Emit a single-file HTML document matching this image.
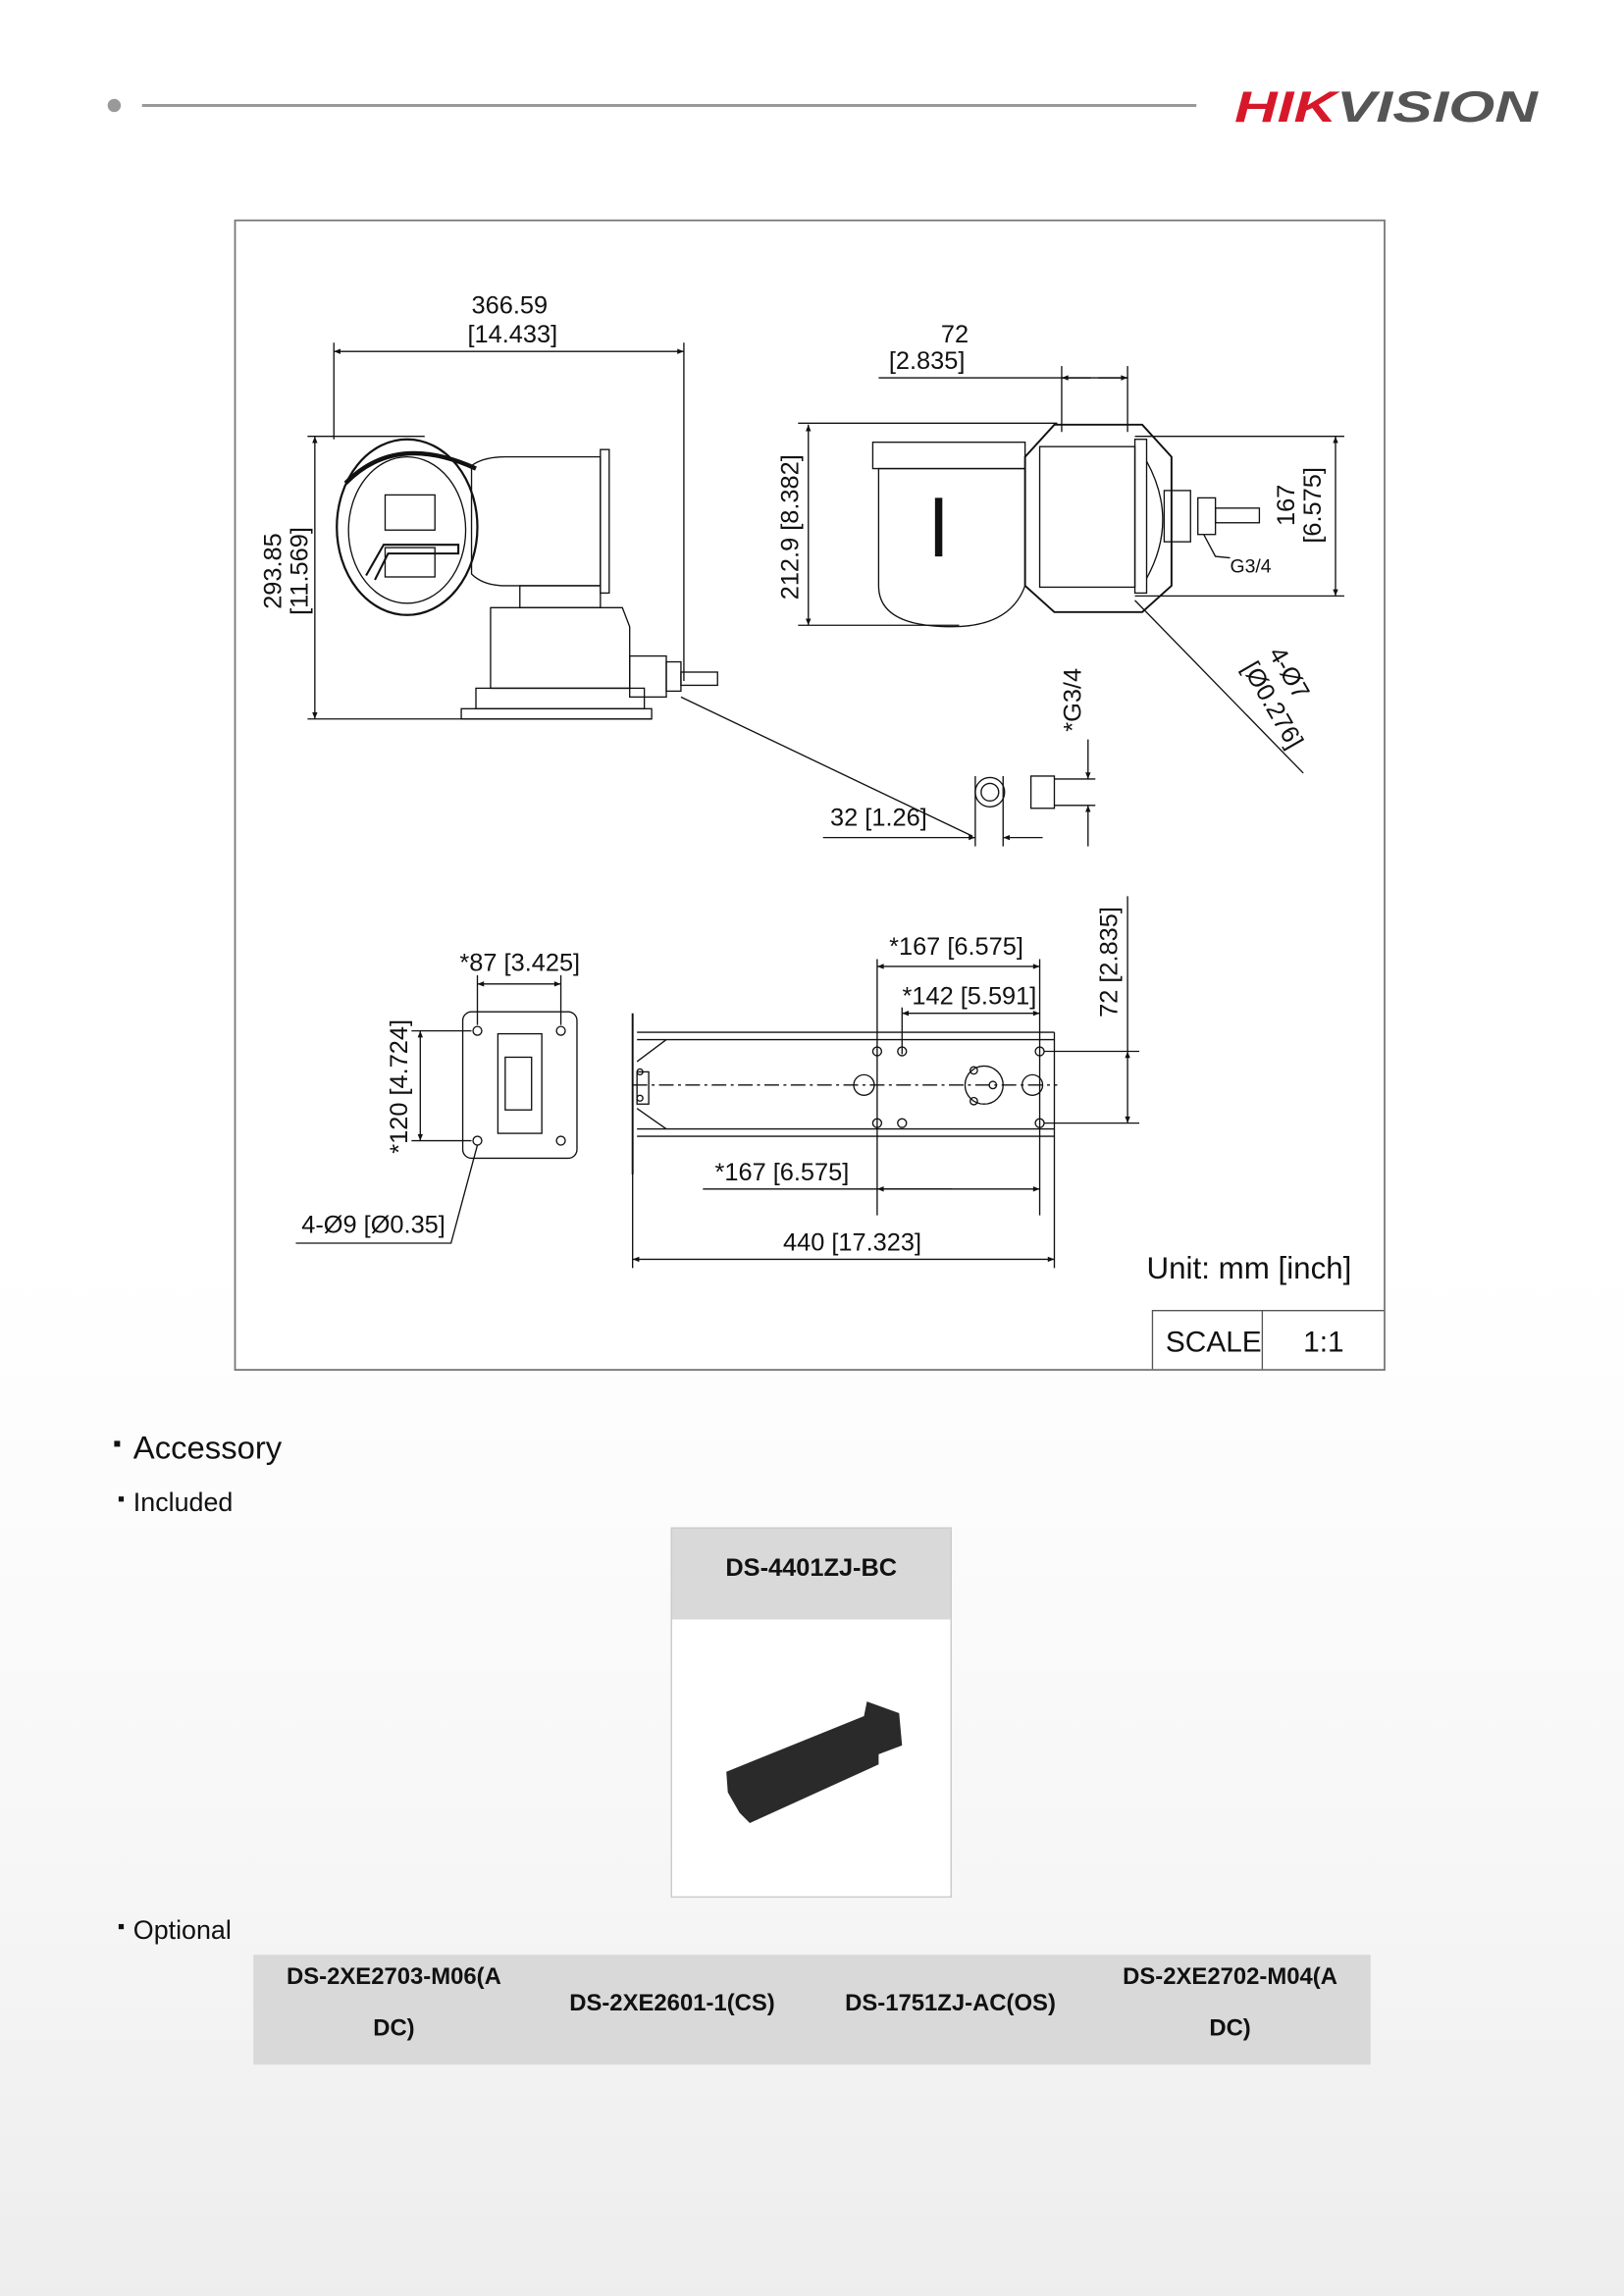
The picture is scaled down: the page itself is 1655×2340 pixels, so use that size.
<!DOCTYPE html>
<html><head><meta charset="utf-8"><style>
html,body{margin:0;padding:0;background:#fff}
svg{display:block}
text{font-family:"Liberation Sans",sans-serif;fill:#111}
</style></head><body>
<svg width="1655" height="2340" viewBox="0 0 1109 1568" xmlns="http://www.w3.org/2000/svg">
<defs>
<linearGradient id="bg" x1="0" y1="0" x2="0" y2="1">
<stop offset="0" stop-color="#fff"/><stop offset="0.55" stop-color="#fff"/><stop offset="0.8" stop-color="#f7f7f7"/><stop offset="1" stop-color="#ededed"/>
</linearGradient>
<marker id="a" viewBox="0 0 10 10" refX="10" refY="5" markerWidth="7" markerHeight="5" orient="auto-start-reverse"><path d="M0,1L10,5L0,9z" fill="#111"/></marker>
</defs>
<rect width="1109" height="1568" fill="url(#bg)"/>
<circle cx="78" cy="72" r="4.5" fill="#999"/>
<line x1="97" y1="72" x2="817" y2="72" stroke="#999" stroke-width="2"/>
<text x="843" y="83" font-size="30" font-weight="bold" font-style="italic" textLength="207" lengthAdjust="spacingAndGlyphs"><tspan fill="#d7182a">HIK</tspan><tspan fill="#555">VISION</tspan></text>
<rect x="160.5" y="150.5" width="785" height="785" fill="#fff" stroke="#777" stroke-width="1.2"/>
<g stroke="#111" fill="none" stroke-width="0.9">
<line x1="228" y1="240" x2="467" y2="240" marker-start="url(#a)" marker-end="url(#a)"/>
<line x1="228" y1="234" x2="228" y2="300"/><line x1="467" y1="234" x2="467" y2="465"/>
<line x1="215" y1="298" x2="215" y2="491" marker-start="url(#a)" marker-end="url(#a)"/>
<line x1="210" y1="298" x2="290" y2="298"/><line x1="210" y1="491" x2="445" y2="491"/>
<ellipse cx="278" cy="360" rx="48" ry="60" stroke-width="1.5"/>
<ellipse cx="278" cy="362" rx="40" ry="50"/>
<path d="M236,330 Q270,295 325,320" stroke-width="3"/>
<rect x="263" y="338" width="34" height="24"/><rect x="263" y="374" width="34" height="20"/>
<path d="M250,393 L262,372 L313,372 L313,378 L265,378 L256,396" stroke-width="1.4"/>
<path d="M322,318 Q330,312 345,312 L410,312 L410,400 L345,400 Q330,400 322,392 Z"/>
<rect x="410" y="307" width="6" height="98"/>
<rect x="355" y="400" width="55" height="15"/>
<path d="M335,415 L425,415 L430,428 L430,470 L335,470 Z"/>
<rect x="325" y="470" width="115" height="14"/>
<rect x="315" y="484" width="130" height="7"/>
<rect x="430" y="448" width="25" height="28"/><rect x="455" y="452" width="10" height="20"/>
<rect x="465" y="459" width="25" height="9"/>
<line x1="465" y1="476" x2="664" y2="571"/>
<line x1="562" y1="572" x2="666" y2="572" marker-end="url(#a)"/>
<line x1="712" y1="572" x2="685" y2="572" marker-end="url(#a)"/>
<line x1="666" y1="530" x2="666" y2="578"/><line x1="685" y1="530" x2="685" y2="578"/>
<circle cx="676" cy="541" r="10"/><circle cx="676" cy="541" r="6"/>
<rect x="704" y="530" width="16" height="22"/><line x1="720" y1="532" x2="748" y2="532"/><line x1="720" y1="550" x2="748" y2="550"/>
<line x1="743" y1="505" x2="743" y2="532" marker-end="url(#a)"/>
<line x1="743" y1="578" x2="743" y2="550" marker-end="url(#a)"/>
<line x1="600" y1="258" x2="770" y2="258"/>
<line x1="745" y1="258" x2="725" y2="258" marker-end="url(#a)"/><line x1="750" y1="258" x2="770" y2="258" marker-end="url(#a)"/>
<line x1="725" y1="250" x2="725" y2="295"/><line x1="770" y1="250" x2="770" y2="295"/>
<line x1="552" y1="290" x2="552" y2="427" marker-start="url(#a)" marker-end="url(#a)"/>
<line x1="545" y1="289" x2="722" y2="289"/><line x1="545" y1="427" x2="655" y2="427"/>
<rect x="596" y="302" width="104" height="18"/>
<path d="M600,320 L700,320 L700,400 Q690,428 650,428 Q600,428 600,400 Z"/>
<line x1="641" y1="340" x2="641" y2="380" stroke-width="5"/>
<path d="M720,290 L780,290 L800,312 L800,400 L780,418 L720,418 L700,400 L700,312 Z" stroke-width="1.3"/>
<rect x="710" y="305" width="65" height="96"/>
<rect x="775" y="300" width="8" height="105"/>
<path d="M783,315 Q805,355 783,395"/>
<rect x="795" y="335" width="18" height="35"/><rect x="818" y="340" width="12" height="25"/><rect x="830" y="347" width="30" height="10"/>
<line x1="912" y1="298" x2="912" y2="407" marker-start="url(#a)" marker-end="url(#a)"/>
<line x1="775" y1="298" x2="918" y2="298"/><line x1="775" y1="407" x2="918" y2="407"/>
<path d="M822,365 L830,380 L840,381"/>
<line x1="775" y1="410" x2="890" y2="528"/>
<rect x="316" y="691" width="78" height="100" rx="6"/>
<rect x="340" y="706" width="30" height="68"/><rect x="345" y="722" width="18" height="36"/>
<g><circle cx="326" cy="704" r="3"/><circle cx="383" cy="704" r="3"/><circle cx="326" cy="779" r="3"/><circle cx="383" cy="779" r="3"/></g>
<line x1="326" y1="672" x2="383" y2="672" marker-start="url(#a)" marker-end="url(#a)"/>
<line x1="326" y1="666" x2="326" y2="700"/><line x1="383" y1="666" x2="383" y2="700"/>
<line x1="287" y1="704" x2="287" y2="779" marker-start="url(#a)" marker-end="url(#a)"/>
<line x1="281" y1="704" x2="322" y2="704"/><line x1="281" y1="779" x2="322" y2="779"/>
<polyline points="202,849 308,849 326,782"/>
<line x1="432" y1="692" x2="432" y2="802" stroke-width="1.3"/>
<rect x="435" y="732" width="8" height="22"/>
<path d="M435,705 L720,705 M435,710 L720,710 M435,771 L720,771 M435,776 L720,776 M720,705 L720,776"/>
<line x1="435" y1="725" x2="455" y2="710"/><line x1="435" y1="757" x2="455" y2="771"/>
<line x1="432" y1="741" x2="722" y2="741" stroke-dasharray="10,3,2,3"/>
<g><circle cx="599" cy="718" r="3"/><circle cx="616" cy="718" r="3"/><circle cx="710" cy="718" r="3"/><circle cx="599" cy="767" r="3"/><circle cx="616" cy="767" r="3"/><circle cx="710" cy="767" r="3"/>
<circle cx="590" cy="741" r="7"/><circle cx="705" cy="741" r="7"/><circle cx="672" cy="741" r="13"/><circle cx="665" cy="731" r="2.5"/><circle cx="665" cy="752" r="2.5"/><circle cx="678" cy="741" r="2.5"/><circle cx="437" cy="732" r="2"/><circle cx="437" cy="750" r="2"/></g>
<line x1="599" y1="660" x2="710" y2="660" marker-start="url(#a)" marker-end="url(#a)"/>
<line x1="616" y1="692" x2="710" y2="692" marker-start="url(#a)" marker-end="url(#a)"/>
<line x1="599" y1="655" x2="599" y2="830"/><line x1="616" y1="688" x2="616" y2="720"/><line x1="710" y1="655" x2="710" y2="830"/>
<line x1="770" y1="612" x2="770" y2="718"/>
<line x1="770" y1="718" x2="770" y2="767" marker-start="url(#a)" marker-end="url(#a)"/>
<line x1="713" y1="718" x2="778" y2="718"/><line x1="713" y1="767" x2="778" y2="767"/>
<line x1="480" y1="812" x2="710" y2="812" marker-end="url(#a)"/><line x1="650" y1="812" x2="599" y2="812" marker-end="url(#a)"/>
<line x1="432" y1="860" x2="720" y2="860" marker-start="url(#a)" marker-end="url(#a)"/>
<line x1="432" y1="800" x2="432" y2="866"/><line x1="720" y1="776" x2="720" y2="866"/>
<path d="M787,935 L787,895 L945,895 M862,895 L862,935" stroke="#555"/>
</g>
<g font-size="17">
<text x="348" y="214" text-anchor="middle">366.59</text>
<text x="350" y="234" text-anchor="middle">[14.433]</text>
<text transform="translate(192,390) rotate(-90)" text-anchor="middle">293.85</text>
<text transform="translate(210,390) rotate(-90)" text-anchor="middle">[11.569]</text>
<text x="652" y="234" text-anchor="middle">72</text>
<text x="633" y="252" text-anchor="middle">[2.835]</text>
<text transform="translate(545,360) rotate(-90)" text-anchor="middle">212.9 [8.382]</text>
<text transform="translate(884,345) rotate(-90)" text-anchor="middle">167</text>
<text transform="translate(902,345) rotate(-90)" text-anchor="middle">[6.575]</text>
<text x="840" y="391" font-size="13">G3/4</text>
<text transform="translate(866,446) rotate(60)">4-Ø7</text>
<text transform="translate(848,456) rotate(60)">[Ø0.276]</text>
<text transform="translate(738,478) rotate(-90)" text-anchor="middle">*G3/4</text>
<text x="600" y="564" text-anchor="middle">32 [1.26]</text>
<text x="355" y="663" text-anchor="middle">*87 [3.425]</text>
<text transform="translate(278,742) rotate(-90)" text-anchor="middle">*120 [4.724]</text>
<text x="255" y="842" text-anchor="middle">4-Ø9 [Ø0.35]</text>
<text x="653" y="652" text-anchor="middle">*167 [6.575]</text>
<text x="662" y="686" text-anchor="middle">*142 [5.591]</text>
<text transform="translate(763,657) rotate(-90)" text-anchor="middle">72 [2.835]</text>
<text x="534" y="806" text-anchor="middle">*167 [6.575]</text>
<text x="582" y="854" text-anchor="middle">440 [17.323]</text>
<text x="783" y="873" font-size="21">Unit: mm [inch]</text>
<text x="796" y="923" font-size="20">SCALE</text>
<text x="890" y="923" font-size="20">1:1</text>
</g>
<rect x="78" y="984" width="4" height="4" fill="#111"/>
<text x="91" y="996" font-size="22">Accessory</text>
<rect x="81" y="1022" width="3.5" height="3.5" fill="#111"/>
<text x="91" y="1032" font-size="18">Included</text>
<rect x="458.5" y="1043.5" width="191" height="252" fill="#fff" stroke="#ccc"/>
<rect x="459" y="1044" width="190" height="62" fill="#d9d9d9"/>
<text x="554" y="1076" font-size="17" text-anchor="middle" font-weight="bold">DS-4401ZJ-BC</text>
<path d="M496,1210 L590,1172 L592,1162 L614,1170 L616,1192 L600,1198 L600,1205 L512,1245 L505,1238 L497,1224 Z" fill="#2a2a2a"/>
<rect x="81" y="1314" width="3.5" height="3.5" fill="#111"/>
<text x="91" y="1324" font-size="18">Optional</text>
<rect x="173" y="1335" width="763" height="75" fill="#d9d9d9"/>
<g font-size="16" text-anchor="middle" font-weight="bold">
<text x="269" y="1355">DS-2XE2703-M06(A</text><text x="269" y="1390">DC)</text>
<text x="459" y="1373">DS-2XE2601-1(CS)</text>
<text x="649" y="1373">DS-1751ZJ-AC(OS)</text>
<text x="840" y="1355">DS-2XE2702-M04(A</text><text x="840" y="1390">DC)</text>
</g>
</svg>
</body></html>
